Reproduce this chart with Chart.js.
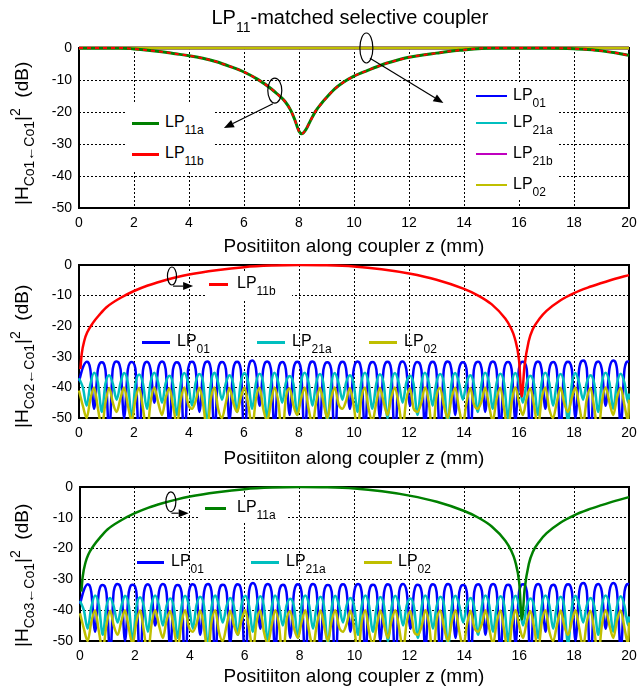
<!DOCTYPE html>
<html lang="en">
<head>
<meta charset="UTF-8">
<title>LP11-matched selective coupler</title>
<script src="https://cdn.jsdelivr.net/npm/chart.js"></script>
<style>
  * { margin: 0; padding: 0; box-sizing: border-box; }
  body { background: #fff; width: 640px; height: 691px; overflow: hidden; font-family: 'Liberation Sans', Arial, sans-serif; color: #000; }
  #wrap { position: relative; width: 640px; height: 691px; }
  canvas { position: absolute; left: 0; }
  .txt { position: absolute; white-space: nowrap; line-height: 1; }
  .txt sub, .txt sup { line-height: 0; }
  .ttl { font-size: 20px; }
  .ttl sub { font-size: 14px; vertical-align: -8px; }
  .xl { font-size: 19px; }
  .yl { font-size: 19px; transform-origin: 0 0; transform: rotate(-90deg); }
  .yl sub { font-size: 14px; vertical-align: -6px; }
  .yl sup { font-size: 14px; vertical-align: 8px; }
  .lg { font-size: 16px; }
  .lg sub { font-size: 12px; vertical-align: -7px; }
  .ln { position: absolute; }
  .box { position: absolute; background: #fff; }
</style>
</head>
<body>
<div id="wrap">
  <canvas id="c1" width="640" height="262" style="top:0"></canvas>
  <canvas id="c2" width="640" height="235" style="top:250px"></canvas>
  <canvas id="c3" width="640" height="221" style="top:470px"></canvas>
</div>
<script>
// top plot: LP11a / LP11b staying in core 1 (both curves overlap)
const zSelf = [0, 1, 1.5, 2, 2.5, 3, 3.5, 4, 4.5, 5, 5.5, 6, 6.5, 7, 7.2, 7.5, 7.7, 7.85, 8.0, 8.1,
  8.25, 8.4, 8.6, 8.8, 9.0, 9.3, 9.6, 10, 10.5, 11, 11.5, 12, 12.5, 13, 13.5, 14, 14.5, 15, 16, 17,
  18, 18.5, 19, 19.5, 20];
const lp11SelfDb = [0, 0, 0, -0.3, -0.7, -1.2, -1.8, -2.4, -3.2, -4.3, -5.8, -7.5, -9.8, -12.8, -14.3, -16.8, -19.5, -22.5, -26.0, -26.8,
  -25.5, -23, -19.8, -17.5, -15.5, -12.8, -10.8, -8.8, -7.0, -5.3, -4.0, -2.9, -2.2, -1.6, -1.0, -0.6, -0.2, 0, 0, 0,
  -0.2, -0.5, -0.9, -1.5, -2.3];
// other modes stay at 0 dB
const zFlat = [0, 20];
const lp01SelfDb = [0, 0];
const lp21aSelfDb = [0, 0];
const lp21bSelfDb = [0, 0];
const lp02SelfDb = [0, 0];

// LP11 coupled to core 2 (LP11b) and core 3 (LP11a)
const zCross = [0.05, 0.1, 0.2, 0.3, 0.5, 0.75, 1, 1.5, 2, 2.5, 3, 3.5, 4, 5, 6, 7, 8, 9, 10, 11,
  12, 13, 14, 14.5, 15, 15.5, 15.7, 15.85, 16.0, 16.1, 16.2, 16.35, 16.5, 16.75, 17, 17.5, 18, 18.5, 19, 19.5, 20];
const lp11CrossDb = [-34, -29, -24.5, -22, -19, -16.2, -13.8, -10.8, -8.5, -6.7, -5.3, -4.1, -3.1, -1.7, -0.7, -0.2, 0, -0.1, -0.5, -1.4,
  -2.8, -4.8, -7.8, -9.9, -12.8, -17.5, -20.5, -24, -31, -43, -33, -25, -21, -17.5, -15, -11.6, -9.2, -7.4, -5.9, -4.5, -3.3];

// crosstalk of the non-matched modes
const zOsc = [0, 0.14, 0.28, 0.41, 0.55, 0.69, 0.83, 0.96, 1.10, 1.23, 1.37, 1.51, 1.64, 1.78, 1.92, 2.05, 2.19, 2.33, 2.47, 2.60,
  2.74, 2.88, 3.02, 3.15, 3.29, 3.42, 3.56, 3.70, 3.83, 3.97, 4.11, 4.24, 4.38, 4.52, 4.66, 4.79, 4.93, 5.06, 5.20, 5.34,
  5.47, 5.61, 5.75, 5.88, 6.02, 6.16, 6.30, 6.43, 6.57, 6.70, 6.84, 6.98, 7.11, 7.25, 7.39, 7.52, 7.66, 7.80, 7.94, 8.07,
  8.21, 8.35, 8.49, 8.62, 8.76, 8.89, 9.03, 9.17, 9.30, 9.44, 9.58, 9.71, 9.85, 9.99, 10.13, 10.26, 10.40, 10.53, 10.67, 10.81,
  10.94, 11.08, 11.22, 11.35, 11.49, 11.63, 11.77, 11.90, 12.04, 12.17, 12.31, 12.45, 12.58, 12.72, 12.86, 12.99, 13.13, 13.27, 13.41, 13.54,
  13.68, 13.82, 13.96, 14.09, 14.23, 14.36, 14.50, 14.64, 14.77, 14.91, 15.05, 15.18, 15.32, 15.46, 15.60, 15.73, 15.87, 16.00, 16.14, 16.28,
  16.41, 16.55, 16.69, 16.82, 16.96, 17.10, 17.24, 17.37, 17.51, 17.64, 17.78, 17.92, 18.05, 18.19, 18.33, 18.46, 18.60, 18.74, 18.88, 19.01,
  19.15, 19.29, 19.43, 19.56, 19.70, 19.84, 19.97, 20];
const lp01Db = [
  -38, -33.5, -31.6, -34, -47, -34, -31.8, -34.2, -55, -33.8, -31.5, -34, -50, -34, -31.7, -33.8,
  -58, -34.2, -31.6, -34, -45, -33.8, -31.5, -34, -53, -34, -31.8, -34.2, -60, -33.9, -31.6, -34,
  -48, -34, -31.5, -33.8, -56, -34.1, -31.7, -34, -51, -34, -31.6, -34, -59, -33.8, -31.2, -33.6,
  -46, -34, -31.5, -34, -54, -34.2, -31.7, -34, -49, -34, -31.6, -34, -57, -33.9, -31.5, -34,
  -52, -34.1, -31.8, -34, -60, -34, -31.6, -33.8, -47, -34, -31.5, -34, -55, -34.1, -31.7, -34,
  -50, -34, -31.6, -34, -58, -33.8, -31.5, -34, -46, -34, -31.7, -34.2, -53, -34, -31.6, -34,
  -56, -33.9, -31.5, -34, -49, -34, -31.8, -34, -59, -34.1, -31.6, -33.8, -48, -34, -31.5, -34,
  -54, -34, -31.7, -34, -51, -33.8, -31.6, -34, -57, -34, -31.5, -34, -47, -34.2, -31.7, -34,
  -55, -34, -31.6, -34, -50, -33.8, -31.2, -33.6, -58, -34, -31.5, -34, -46, -33.8, -31.2, -33.8,
  -53, -33.8, -31.5, -31.6];
const lp21aDb = [
  -37, -40, -46, -39, -35.2, -38.5, -48, -38.8, -36, -38.8, -44, -38.5, -35.3, -38.6, -50, -39,
  -35.8, -38.9, -47, -38.5, -35.2, -38.5, -45, -38.7, -36.2, -39, -49, -38.6, -35.3, -38.6, -46, -38.5,
  -35.6, -38.8, -52, -39, -35.2, -38.5, -44, -38.6, -36, -38.9, -48, -38.5, -35.3, -38.6, -47, -38.8,
  -35.5, -38.7, -50, -39, -35.2, -38.5, -45, -38.6, -36.3, -39, -49, -38.5, -35.2, -38.5, -46, -38.7,
  -35.6, -38.8, -51, -39, -35.3, -38.6, -44, -38.5, -36, -38.9, -48, -38.6, -35.2, -38.5, -47, -38.8,
  -35.7, -38.8, -50, -39, -35.3, -38.6, -45, -38.5, -36.2, -39, -49, -38.6, -35.2, -38.5, -46, -38.7,
  -35.6, -38.8, -52, -39, -35.3, -38.6, -44, -38.5, -36, -38.9, -48, -38.6, -35.2, -38.5, -47, -38.8,
  -35.5, -38.7, -50, -39, -35.3, -38.6, -45, -38.5, -36.2, -39, -49, -38.6, -35.2, -38.5, -46, -38.7,
  -35.6, -38.8, -51, -39, -35.3, -38.6, -44, -38.5, -36, -38.9, -48, -38.6, -35.2, -38.5, -47, -38.8,
  -35.5, -38.7, -45, -42];
const lp02Db = [
  -41, -46, -50, -44, -40, -47, -53, -45, -40.2, -45, -48, -43.5, -40, -46, -51, -44,
  -40.1, -47, -55, -45, -40, -45, -49, -43.5, -40.3, -46, -52, -44, -40, -45.5, -47, -44.5,
  -40.1, -46, -54, -44, -40, -47, -50, -45, -40.2, -45, -48, -43.5, -40, -46, -53, -44,
  -40.1, -47, -51, -45, -40, -45, -56, -43.5, -40.3, -46, -49, -44, -40, -47, -52, -45,
  -40.1, -45, -50, -43.5, -40, -45.5, -47, -44.5, -40.2, -46, -54, -44, -40, -47, -51, -45,
  -40.1, -45, -49, -43.5, -40, -46, -53, -44, -40.3, -47, -48, -45, -40, -45, -55, -43.5,
  -40.1, -46, -50, -44, -40, -47, -52, -45, -40.2, -45.5, -47, -44.5, -40, -46, -51, -44,
  -40.1, -47, -54, -45, -40, -45, -49, -43.5, -40.3, -46, -53, -44, -40, -47, -50, -45,
  -40.1, -45, -48, -43.5, -40, -46, -52, -44, -40.2, -47, -55, -45, -40, -45, -49, -43.5,
  -40.1, -46, -51, -44];

const xTicks = { min: 0, max: 20, step: 2 };
const yTicks = { min: -50, max: 0, step: 10 };

const FONT = "'Liberation Sans', Arial, sans-serif";
const BLUE = '#0000ff', GREEN = '#008000', RED = '#ff0000', CYAN = '#00bfbf', MAGENTA = '#bf00bf', YELLOW = '#bfbf00';

Chart.defaults.font.family = FONT;

const pts = (zs, ys) => zs.map((z, i) => ({ x: z, y: ys[i] }));

function line(label, zs, ys, color, width, extra) {
  return Object.assign({
    label: label, data: pts(zs, ys), borderColor: color, borderWidth: width,
    pointRadius: 0, fill: false, cubicInterpolationMode: 'monotone', clip: 1
  }, extra || {});
}

// fixed axis sizes so the plot boxes land where they are in the figure
function fixSize(prop, size) {
  return s => {
    s[prop] = size;
    s.paddingTop = 0; s.paddingBottom = 0; s.paddingLeft = 0; s.paddingRight = 0;
  };
}

function scalesFor(yW, xH) {
  const tickFont = { family: FONT, size: 14 };
  return {
    x: {
      type: 'linear', min: xTicks.min, max: xTicks.max,
      ticks: { stepSize: xTicks.step, padding: 7, color: '#000', font: tickFont, maxRotation: 0, autoSkip: false },
      grid: { color: '#000', lineWidth: 1, drawTicks: false },
      border: { display: false, dash: [2, 2] },
      afterFit: fixSize('height', xH)
    },
    y: {
      type: 'linear', min: yTicks.min, max: yTicks.max,
      ticks: { stepSize: yTicks.step, padding: 7, color: '#000', font: tickFont },
      grid: { color: '#000', lineWidth: 1, drawTicks: false },
      border: { display: false, dash: [2, 2] },
      afterFit: fixSize('width', yW)
    }
  };
}

// black box round each axes
const frame = {
  id: 'frame',
  beforeDatasetsDraw(c) {
    const a = c.chartArea, g = c.ctx;
    g.save();
    g.strokeStyle = '#000';
    g.lineWidth = 2;
    g.strokeRect(a.left, a.top, a.right - a.left, a.bottom - a.top);
    g.restore();
  }
};

// ellipses and arrows pointing at the legends
const marks = {
  id: 'marks',
  afterDatasetsDraw(c, args, opts) {
    const g = c.ctx, sx = c.scales.x, sy = c.scales.y;
    const px = v => sx.getPixelForValue(v), py = v => sy.getPixelForValue(v);
    g.save();
    g.strokeStyle = '#000';
    g.fillStyle = '#000';
    g.lineWidth = 1.2;
    (opts.ellipses || []).forEach(e => {
      g.beginPath();
      g.ellipse(px(e.x), py(e.y), e.rx, e.ry, 0, 0, Math.PI * 2);
      g.stroke();
    });
    (opts.arrows || []).forEach(a => {
      const x1 = px(a.from[0]), y1 = py(a.from[1]), x2 = px(a.to[0]), y2 = py(a.to[1]);
      const ang = Math.atan2(y2 - y1, x2 - x1), L = 10, W = 4;
      const bx = x2 - L * Math.cos(ang), by = y2 - L * Math.sin(ang);
      g.beginPath();
      g.moveTo(x1, y1);
      g.lineTo(bx, by);
      g.stroke();
      g.beginPath();
      g.moveTo(x2, y2);
      g.lineTo(bx + W * Math.sin(ang), by - W * Math.cos(ang));
      g.lineTo(bx - W * Math.sin(ang), by + W * Math.cos(ang));
      g.closePath();
      g.fill();
    });
    g.restore();
  }
};

function makeChart(id, padTop, yW, xH, datasets, markOpts) {
  return new Chart(document.getElementById(id), {
    type: 'line',
    data: { datasets: datasets },
    options: {
      responsive: false, animation: false, events: [],
      layout: { padding: { top: padTop, right: 11, bottom: 0, left: 0 } },
      plugins: { legend: { display: false }, tooltip: { enabled: false }, marks: markOpts },
      scales: scalesFor(yW, xH)
    },
    plugins: [frame, marks]
  });
}

// first dataset is drawn on top
makeChart('c1', 48, 79, 54, [
  line('LP11b', zSelf, lp11SelfDb, RED, 2, { borderDash: [4, 4] }),
  line('LP11a', zSelf, lp11SelfDb, GREEN, 3),
  line('LP02', zFlat, lp02SelfDb, YELLOW, 3, { clip: 4 }),
  line('LP21b', zFlat, lp21bSelfDb, MAGENTA, 3, { clip: 4 }),
  line('LP21a', zFlat, lp21aSelfDb, CYAN, 3, { clip: 4 }),
  line('LP01', zFlat, lp01SelfDb, BLUE, 3, { clip: 4 })
], {
  ellipses: [{ x: 10.45, y: 0, rx: 6.5, ry: 15 }, { x: 7.12, y: -13.3, rx: 7, ry: 12.5 }],
  arrows: [{ from: [10.58, -3.2], to: [13.25, -17.2] }, { from: [7.05, -17.4], to: [5.27, -25] }]
});

makeChart('c2', 15, 79, 67, [
  line('LP11b', zCross, lp11CrossDb, RED, 2.5),
  line('LP02', zOsc, lp02Db, YELLOW, 2.5),
  line('LP21a', zOsc, lp21aDb, CYAN, 2.5),
  line('LP01', zOsc, lp01Db, BLUE, 2.5)
], {
  ellipses: [{ x: 3.38, y: -3.6, rx: 4.5, ry: 9 }],
  arrows: [{ from: [3.42, -6.9], to: [4.15, -6.9] }]
});

makeChart('c3', 17, 80, 50, [
  line('LP11a', zCross, lp11CrossDb, GREEN, 2.5),
  line('LP02', zOsc, lp02Db, YELLOW, 2.5),
  line('LP21a', zOsc, lp21aDb, CYAN, 2.5),
  line('LP01', zOsc, lp01Db, BLUE, 2.5)
], {
  ellipses: [{ x: 3.31, y: -4.8, rx: 5, ry: 10 }],
  arrows: [{ from: [3.33, -8.5], to: [3.96, -8.5] }]
});

// text overlays (sub/superscripts need html)
const wrap = document.getElementById('wrap');

function addEl(cls, html) {
  const el = document.createElement('div');
  el.className = cls;
  if (html) el.innerHTML = html;
  wrap.appendChild(el);
  return el;
}

function addText(cls, html, x, y, center) {
  const el = addEl('txt ' + cls, html);
  const fs = parseFloat(getComputedStyle(el).fontSize);
  el.style.top = (y - 0.49 * fs) + 'px';
  el.style.left = (center ? x - el.offsetWidth / 2 : x) + 'px';
}

function addYLabel(html, cx, cy) {
  const el = addEl('txt yl', html);
  const fs = parseFloat(getComputedStyle(el).fontSize);
  el.style.left = (cx - 0.49 * fs) + 'px';
  el.style.top = (cy + el.offsetWidth / 2) + 'px';
}

function addBox(x1, y1, x2, y2) {
  const b = addEl('box');
  Object.assign(b.style, { left: x1 + 'px', top: y1 + 'px', width: (x2 - x1) + 'px', height: (y2 - y1) + 'px' });
}

function addLegend(x, y, w, color, thick, tx, html) {
  const l = addEl('ln');
  Object.assign(l.style, { left: x + 'px', top: (y - thick / 2) + 'px', width: w + 'px', height: thick + 'px', background: color });
  addText('lg', html, tx, y - 1.5, false);
}

addText('ttl', 'LP<sub>11</sub>-matched selective coupler', 350, 17, true);

const xlab = 'Positiiton along coupler z (mm)';
addText('xl', xlab, 354, 245, true);
addText('xl', xlab, 354, 457, true);
addText('xl', xlab, 354, 675, true);

addYLabel('|H<sub>Co1&larr;Co1</sub>|<sup>2</sup>&nbsp; (dB)', 21, 133);
addYLabel('|H<sub>Co2&larr;Co1</sub>|<sup>2</sup>&nbsp; (dB)', 21, 356);
addYLabel('|H<sub>Co3&larr;Co1</sub>|<sup>2</sup>&nbsp; (dB)', 21, 575);

// top plot legends
addBox(127, 103, 213, 170);
addLegend(132, 123, 27, GREEN, 3, 165, 'LP<sub>11a</sub>');
addLegend(132, 154, 27, RED, 3, 165, 'LP<sub>11b</sub>');
addBox(467, 84, 558, 198);
addLegend(476, 96, 31, BLUE, 2, 513, 'LP<sub>01</sub>');
addLegend(476, 123, 31, CYAN, 2, 513, 'LP<sub>21a</sub>');
addLegend(476, 154, 31, MAGENTA, 2, 513, 'LP<sub>21b</sub>');
addLegend(476, 185, 31, YELLOW, 2, 513, 'LP<sub>02</sub>');

// middle plot legends
addBox(205, 273, 292, 300);
addLegend(209, 284, 19, RED, 3, 237, 'LP<sub>11b</sub>');
addLegend(142, 342, 28, BLUE, 3, 177, 'LP<sub>01</sub>');
addLegend(257, 342, 28, CYAN, 3, 292, 'LP<sub>21a</sub>');
addLegend(369, 342, 28, YELLOW, 3, 404, 'LP<sub>02</sub>');

// bottom plot legends
addBox(200, 499, 286, 523);
addLegend(205, 508, 21, GREEN, 3, 237, 'LP<sub>11a</sub>');
addLegend(137, 562, 27, BLUE, 3, 171, 'LP<sub>01</sub>');
addLegend(251, 562, 28, CYAN, 3, 286, 'LP<sub>21a</sub>');
addLegend(364, 562, 28, YELLOW, 3, 398, 'LP<sub>02</sub>');
</script>
</body>
</html>
